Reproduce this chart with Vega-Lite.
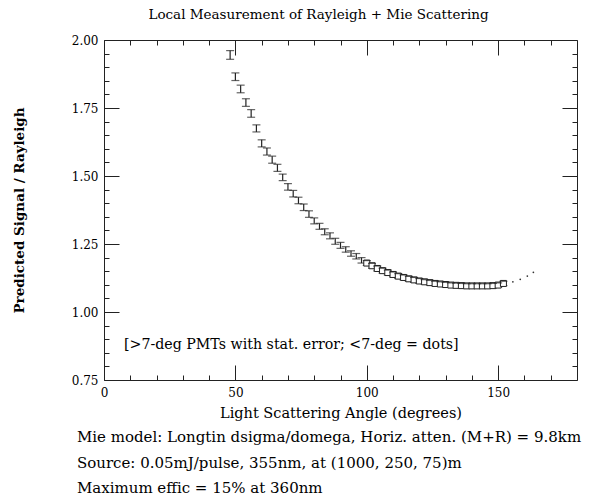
{
  "$schema": "https://vega.github.io/schema/vega-lite/v6.json",
  "autosize": {"type": "none"},
  "width": 473,
  "height": 340,
  "padding": {"left": 104, "top": 40, "right": 15, "bottom": 116},
  "background": "white",
  "title": {
    "text": "Local Measurement of Rayleigh + Mie Scattering",
    "font": "DejaVu Serif",
    "fontSize": 13.5,
    "fontWeight": "normal",
    "color": "black",
    "anchor": "middle",
    "dx": -22,
    "offset": 13
  },
  "config": {
    "view": {"stroke": null},
    "font": "DejaVu Serif"
  },
  "datasets": {
    "main": [
      {"angle": 48, "val": 1.945, "lo": 1.929, "hi": 1.961},
      {"angle": 50, "val": 1.865, "lo": 1.851, "hi": 1.879},
      {"angle": 52, "val": 1.82, "lo": 1.806, "hi": 1.834},
      {"angle": 54, "val": 1.77, "lo": 1.756, "hi": 1.784},
      {"angle": 56, "val": 1.73, "lo": 1.716, "hi": 1.744},
      {"angle": 58, "val": 1.675, "lo": 1.662, "hi": 1.688},
      {"angle": 60, "val": 1.62, "lo": 1.607, "hi": 1.633},
      {"angle": 62, "val": 1.59, "lo": 1.577, "hi": 1.603},
      {"angle": 64, "val": 1.56, "lo": 1.547, "hi": 1.573},
      {"angle": 66, "val": 1.53, "lo": 1.517, "hi": 1.543},
      {"angle": 68, "val": 1.495, "lo": 1.483, "hi": 1.507},
      {"angle": 70, "val": 1.46, "lo": 1.448, "hi": 1.472},
      {"angle": 72, "val": 1.435, "lo": 1.423, "hi": 1.447},
      {"angle": 74, "val": 1.41, "lo": 1.398, "hi": 1.422},
      {"angle": 76, "val": 1.385, "lo": 1.373, "hi": 1.397},
      {"angle": 78, "val": 1.36, "lo": 1.348, "hi": 1.372},
      {"angle": 80, "val": 1.335, "lo": 1.324, "hi": 1.346},
      {"angle": 82, "val": 1.315, "lo": 1.304, "hi": 1.326},
      {"angle": 84, "val": 1.295, "lo": 1.284, "hi": 1.306},
      {"angle": 86, "val": 1.28, "lo": 1.269, "hi": 1.291},
      {"angle": 88, "val": 1.26, "lo": 1.249, "hi": 1.271},
      {"angle": 90, "val": 1.245, "lo": 1.234, "hi": 1.256},
      {"angle": 92, "val": 1.23, "lo": 1.22, "hi": 1.24},
      {"angle": 94, "val": 1.215, "lo": 1.205, "hi": 1.225},
      {"angle": 96, "val": 1.205, "lo": 1.195, "hi": 1.215},
      {"angle": 98, "val": 1.19, "lo": 1.18, "hi": 1.2},
      {"angle": 100, "val": 1.18, "lo": 1.171, "hi": 1.189},
      {"angle": 102, "val": 1.17, "lo": 1.161, "hi": 1.179},
      {"angle": 104, "val": 1.16, "lo": 1.151, "hi": 1.169},
      {"angle": 106, "val": 1.152, "lo": 1.143, "hi": 1.161},
      {"angle": 108, "val": 1.145, "lo": 1.136, "hi": 1.154},
      {"angle": 110, "val": 1.138, "lo": 1.129, "hi": 1.147},
      {"angle": 112, "val": 1.132, "lo": 1.123, "hi": 1.141},
      {"angle": 114, "val": 1.127, "lo": 1.118, "hi": 1.136},
      {"angle": 116, "val": 1.122, "lo": 1.113, "hi": 1.131},
      {"angle": 118, "val": 1.118, "lo": 1.109, "hi": 1.127},
      {"angle": 120, "val": 1.114, "lo": 1.105, "hi": 1.123},
      {"angle": 122, "val": 1.111, "lo": 1.103, "hi": 1.119},
      {"angle": 124, "val": 1.108, "lo": 1.1, "hi": 1.116},
      {"angle": 126, "val": 1.105, "lo": 1.097, "hi": 1.113},
      {"angle": 128, "val": 1.103, "lo": 1.095, "hi": 1.111},
      {"angle": 130, "val": 1.101, "lo": 1.093, "hi": 1.109},
      {"angle": 132, "val": 1.099, "lo": 1.091, "hi": 1.107},
      {"angle": 134, "val": 1.098, "lo": 1.09, "hi": 1.106},
      {"angle": 136, "val": 1.097, "lo": 1.089, "hi": 1.105},
      {"angle": 138, "val": 1.096, "lo": 1.088, "hi": 1.104},
      {"angle": 140, "val": 1.096, "lo": 1.088, "hi": 1.104},
      {"angle": 142, "val": 1.096, "lo": 1.088, "hi": 1.104},
      {"angle": 144, "val": 1.096, "lo": 1.088, "hi": 1.104},
      {"angle": 146, "val": 1.096, "lo": 1.088, "hi": 1.104},
      {"angle": 148, "val": 1.097, "lo": 1.089, "hi": 1.105},
      {"angle": 150, "val": 1.099, "lo": 1.091, "hi": 1.107},
      {"angle": 152, "val": 1.105, "lo": 1.097, "hi": 1.113}
    ],
    "dots": [
      {"angle": 155.6, "val": 1.111},
      {"angle": 158.4, "val": 1.12},
      {"angle": 161.1, "val": 1.132},
      {"angle": 163.4, "val": 1.146}
    ]
  },
  "resolve": {"axis": {"x": "independent", "y": "independent"}},
  "layer": [
    {
      "data": {"name": "main"},
      "mark": {"type": "rule", "color": "#222", "strokeWidth": 1.2},
      "encoding": {
        "x": {
          "field": "angle", "type": "quantitative",
          "scale": {"domain": [0, 180], "nice": false, "zero": false},
          "axis": {
            "orient": "bottom",
            "values": [0, 10, 20, 30, 40, 50, 60, 70, 80, 90, 100, 110, 120, 130, 140, 150, 160, 170],
            "labelExpr": "datum.value % 50 === 0 ? datum.label : ''",
            "tickSize": {"condition": {"test": "datum.value % 50 === 0", "value": -15}, "value": -5},
            "tickColor": "#222", "domainColor": "#222", "grid": false,
            "labelFont": "DejaVu Serif", "labelFontSize": 12, "labelColor": "black",
            "labelPadding": 22, "labelFlush": false, "labelOverlap": false,
            "title": "Light Scattering Angle (degrees)",
            "titleFont": "DejaVu Serif", "titleFontSize": 14.5, "titleFontWeight": "normal",
            "titleColor": "black", "titlePadding": -2
          }
        },
        "y": {
          "field": "lo", "type": "quantitative",
          "scale": {"domain": [0.75, 2.0], "nice": false, "zero": false},
          "axis": {
            "orient": "left",
            "values": [0.75, 0.8, 0.85, 0.9, 0.95, 1.0, 1.05, 1.1, 1.15, 1.2, 1.25, 1.3, 1.35, 1.4, 1.45, 1.5, 1.55, 1.6, 1.65, 1.7, 1.75, 1.8, 1.85, 1.9, 1.95, 2.0],
            "format": ".2f",
            "labelExpr": "abs(datum.value * 4 - round(datum.value * 4)) < 0.001 ? datum.label : ''",
            "tickSize": {"condition": {"test": "abs(datum.value * 4 - round(datum.value * 4)) < 0.001", "value": -15}, "value": -5},
            "tickColor": "#222", "domainColor": "#222", "grid": false,
            "labelFont": "DejaVu Serif", "labelFontSize": 12, "labelColor": "black",
            "labelPadding": 21, "labelFlush": false, "labelOverlap": false,
            "title": "Predicted Signal / Rayleigh",
            "titleFont": "DejaVu Serif", "titleFontSize": 13.5, "titleFontWeight": "bold",
            "titleColor": "black", "titlePadding": 45
          }
        },
        "y2": {"field": "hi"}
      }
    },
    {
      "data": {"name": "main"},
      "mark": {"type": "tick", "orient": "horizontal", "color": "#222", "size": 8, "thickness": 1.2},
      "encoding": {
        "x": {"field": "angle", "type": "quantitative", "axis": null},
        "y": {"field": "lo", "type": "quantitative", "axis": null}
      }
    },
    {
      "data": {"name": "main"},
      "transform": [{"filter": "datum.angle >= 100"}],
      "mark": {"type": "point", "shape": "square", "filled": false, "fill": "white", "fillOpacity": 1, "stroke": "#222", "strokeWidth": 1, "size": 36, "opacity": 1},
      "encoding": {
        "x": {"field": "angle", "type": "quantitative", "axis": null},
        "y": {"field": "val", "type": "quantitative", "axis": null}
      }
    },
    {
      "data": {"name": "main"},
      "mark": {"type": "tick", "orient": "horizontal", "color": "#222", "size": 8, "thickness": 1.2},
      "encoding": {
        "x": {"field": "angle", "type": "quantitative", "axis": null},
        "y": {"field": "hi", "type": "quantitative", "axis": null}
      }
    },
    {
      "data": {"name": "dots"},
      "mark": {"type": "point", "shape": "circle", "filled": true, "color": "#333", "size": 3, "opacity": 1},
      "encoding": {
        "x": {
          "field": "angle", "type": "quantitative",
          "axis": {
            "orient": "top",
            "values": [0, 10, 20, 30, 40, 50, 60, 70, 80, 90, 100, 110, 120, 130, 140, 150, 160, 170],
            "labels": false, "title": null, "grid": false,
            "tickSize": {"condition": {"test": "datum.value % 50 === 0", "value": -15}, "value": -5},
            "tickColor": "#222", "domainColor": "#222"
          }
        },
        "y": {
          "field": "val", "type": "quantitative",
          "axis": {
            "orient": "right",
            "values": [0.75, 0.8, 0.85, 0.9, 0.95, 1.0, 1.05, 1.1, 1.15, 1.2, 1.25, 1.3, 1.35, 1.4, 1.45, 1.5, 1.55, 1.6, 1.65, 1.7, 1.75, 1.8, 1.85, 1.9, 1.95, 2.0],
            "labels": false, "title": null, "grid": false,
            "tickSize": {"condition": {"test": "abs(datum.value * 4 - round(datum.value * 4)) < 0.001", "value": -15}, "value": -5},
            "tickColor": "#222", "domainColor": "#222"
          }
        }
      }
    },
    {
      "data": {"values": [{}]},
      "mark": {"type": "text", "align": "left", "baseline": "middle", "font": "DejaVu Serif", "fontSize": 14.2, "color": "black"},
      "encoding": {
        "x": {"datum": 7.6, "type": "quantitative", "axis": null},
        "y": {"datum": 0.879, "type": "quantitative", "axis": null},
        "text": {"value": "[>7-deg PMTs with stat. error; <7-deg = dots]"}
      }
    },
    {
      "data": {"values": [{}]},
      "mark": {"type": "text", "align": "left", "baseline": "middle", "font": "DejaVu Serif", "fontSize": 15, "color": "black"},
      "encoding": {
        "x": {"datum": -10.3, "type": "quantitative", "axis": null},
        "y": {"datum": 0.5404, "type": "quantitative", "axis": null},
        "text": {"value": "Mie model: Longtin dsigma/domega, Horiz. atten. (M+R) = 9.8km"}
      }
    },
    {
      "data": {"values": [{}]},
      "mark": {"type": "text", "align": "left", "baseline": "middle", "font": "DejaVu Serif", "fontSize": 15, "color": "black"},
      "encoding": {
        "x": {"datum": -10.3, "type": "quantitative", "axis": null},
        "y": {"datum": 0.4449, "type": "quantitative", "axis": null},
        "text": {"value": "Source: 0.05mJ/pulse, 355nm, at (1000, 250, 75)m"}
      }
    },
    {
      "data": {"values": [{}]},
      "mark": {"type": "text", "align": "left", "baseline": "middle", "font": "DejaVu Serif", "fontSize": 15, "color": "black"},
      "encoding": {
        "x": {"datum": -10.3, "type": "quantitative", "axis": null},
        "y": {"datum": 0.3529, "type": "quantitative", "axis": null},
        "text": {"value": "Maximum effic = 15% at 360nm"}
      }
    }
  ]
}
